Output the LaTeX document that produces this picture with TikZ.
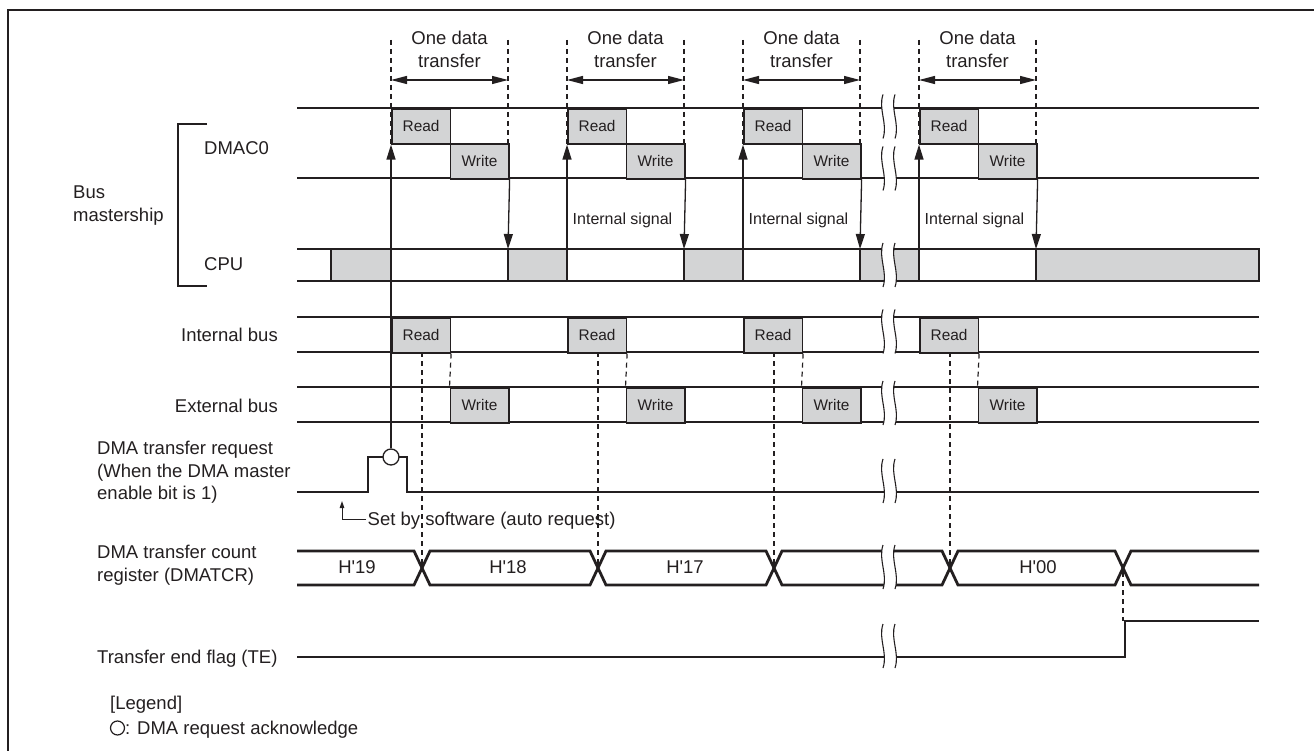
\documentclass[tikz,border=0pt]{standalone}
\usepackage{fontspec}
\setmainfont{Liberation Sans}
\usetikzlibrary{arrows.meta}
\definecolor{ink}{RGB}{35,31,32}
\definecolor{boxgray}{RGB}{211,212,213}
\newcommand{\fszbig}{\fontsize{18.5}{22.5}\selectfont}
\newcommand{\fszbox}{\fontsize{15.4}{18}\selectfont}
\newcommand{\fszsig}{\fontsize{16}{19}\selectfont}
\tikzset{
  rowline/.style={draw=ink, line width=1.2pt},
  sigline/.style={draw=ink, line width=2.8pt},
  graybox/.style={draw=ink, fill=boxgray, line width=1.6pt},
  rbox/.style={draw=ink, fill=boxgray, line width=1.6pt, minimum width=58.5pt, minimum height=35pt, inner sep=0pt, font=\fszbox, text=ink},
  dsh/.style={draw=ink, line width=1.2pt, dash pattern=on 5pt off 4pt},
  arr/.style={draw=ink, line width=1.3pt, -{Triangle[length=15pt,width=9pt]}},
  darr/.style={draw=ink, line width=1.3pt, {Triangle[length=16pt,width=8pt]}-{Triangle[length=16pt,width=8pt]}},
  txt/.style={font=\fszbig, inner sep=0pt, text=ink},
  sigtxt/.style={font=\fszsig, inner sep=0pt, text=ink},
  brk/.pic={
    \fill[white] (-6,-22) .. controls (-11,-7) and (-1,7) .. (-6,22) -- (6,22) .. controls (11,7) and (1,-7) .. (6,-22) -- cycle;
    \draw[ink, line width=1.1pt] (-6,-22) .. controls (-11,-7) and (-1,7) .. (-6,22);
    \draw[ink, line width=1.1pt] (6,-22) .. controls (1,-7) and (11,7) .. (6,22);
  }
}
\begin{document}
\begin{tikzpicture}[x=1pt,y=-1pt]
\useasboundingbox (0,0) rectangle (1314,751);
% frame
\draw[ink, line width=2.5pt] (1314,10) -- (8,10) -- (8,751);

% row lines
\draw[rowline] (297,108) -- (1259,108);
\draw[rowline] (297,178) -- (1259,178);
\draw[rowline] (297,249) -- (1259,249);
\draw[rowline] (297,281) -- (1259,281);
\draw[rowline] (297,317) -- (1259,317);
\draw[rowline] (297,352) -- (1259,352);
\draw[rowline] (297,387) -- (1259,387);
\draw[rowline] (297,422) -- (1259,422);

% CPU busy boxes
\draw[graybox] (331,249) rectangle (391,281);
\draw[graybox] (508,249) rectangle (567,281);
\draw[graybox] (684,249) rectangle (743,281);
\draw[graybox] (860,249) rectangle (919,281);
\draw[graybox] (1036,249) rectangle (1259,281);

% transfers
\foreach \T [count=\i] in {391,567,743,919} {
  \draw[dsh] (\T,40) -- (\T,178);
  \draw[dsh] (\T+117,40) -- (\T+117,143);
  \draw[darr] (\T,80) -- (\T+117,80);
  \node[txt, anchor=base] (od\i) at (\T+58.5,44.6) {One data};
  \node[txt, anchor=base] (tr\i) at (\T+58.5,67.6) {transfer};
  \node[rbox, anchor=north west] (dr\i) at (\T,108) {Read};
  \node[rbox, anchor=north west] (dw\i) at (\T+58.5,143) {Write};
  \node[rbox, anchor=north west] (ir\i) at (\T,317) {Read};
  \node[rbox, anchor=north west] (ew\i) at (\T+58.5,387) {Write};
  \draw[arr] (dw\i.south east) -- (\T+117,249);
  \draw[dsh] (ir\i.south east) -- (ew\i.north west);
  \draw[dsh] (\T+31,352) -- (\T+31,568);
}
\foreach \T [count=\i from 2] in {567,743,919} {
  \draw[arr] (\T,249) -- (dr\i.south west);
  \node[sigtxt, anchor=base west] (is\i) at (\T+5.5,224.7) {Internal signal};
}

% DMA transfer request
\draw[sigline] (297,492) -- (368,492) -- (368,457) -- (407,457) -- (407,492) -- (1259,492);
\node[circle, draw=ink, fill=white, line width=1.3pt, minimum size=16pt, inner sep=0pt] (ack) at (391,457) {};
\draw[arr] (ack.north) -- (dr1.south west);
\draw[ink, line width=1pt, -{Triangle[length=7pt,width=4.5pt]}] (366,519) -- (342,519) -- (342,501);
\node[txt, anchor=base west] (sbs) at (367.5,525.6) {Set by software (auto request)};

% DMATCR
\draw[sigline, line join=miter] (297,551) -- (414,551) -- (422,568) -- (414,585) -- (297,585);
\foreach \a/\b in {422/598, 598/774, 774/950, 950/1123} {
  \draw[sigline, line join=miter] (\a,568) -- (\a+8,551) -- (\b-8,551) -- (\b,568) -- (\b-8,585) -- (\a+8,585) -- cycle;
}
\draw[sigline, line join=miter] (1259,551) -- (1131,551) -- (1123,568) -- (1131,585) -- (1259,585);
\node[txt, anchor=base] (h19) at (357,573.6) {H\textquotesingle 19};
\node[txt, anchor=base] (h18) at (508,573.6) {H\textquotesingle 18};
\node[txt, anchor=base] (h17) at (685,573.6) {H\textquotesingle 17};
\node[txt, anchor=base] (h00) at (1038,573.6) {H\textquotesingle 00};

% TE
\draw[dsh] (1123,572) -- (1123,621);
\draw[sigline] (297,657) -- (1125,657) -- (1125,621) -- (1259,621);

% breaks
\foreach \y in {116.5,168.5,265,331.5,403,481,567,646} {
  \pic at (889,\y) {brk};
}

% bracket
\draw[ink, line width=1.3pt] (207,124) -- (178,124) -- (178,286) -- (207,286);

% labels
\node[txt, anchor=base west] (bus1) at (73,198.6) {Bus};
\node[txt, anchor=base west] (bus2) at (73,221.6) {mastership};
\node[txt, anchor=base west] (ldmac) at (204,154.6) {DMAC0};
\node[txt, anchor=base west] (lcpu) at (204,270.6) {CPU};
\node[txt, anchor=base east] (lint) at (278,341.2) {Internal bus};
\node[txt, anchor=base east] (lext) at (278,412.2) {External bus};
\node[txt, anchor=base west] (lreq1) at (97,454.6) {DMA transfer request};
\node[txt, anchor=base west] (lreq2) at (97,477.3) {(When the DMA master};
\node[txt, anchor=base west] (lreq3) at (97,499.8) {enable bit is 1)};
\node[txt, anchor=base west] (lcnt1) at (97,558.3) {DMA transfer count};
\node[txt, anchor=base west] (lcnt2) at (97,581.3) {register (DMATCR)};
\node[txt, anchor=base west] (lte) at (97,663.3) {Transfer end flag (TE)};
\node[txt, anchor=base west] (leg1) at (110,709.6) {[Legend]};
\node[circle, draw=ink, line width=1.2pt, minimum size=14pt, inner sep=0pt] (legc) at (117.5,728) {};
\node[txt, anchor=base west] (leg2) at (125,734.6) {: DMA request acknowledge};
\end{tikzpicture}
\end{document}
